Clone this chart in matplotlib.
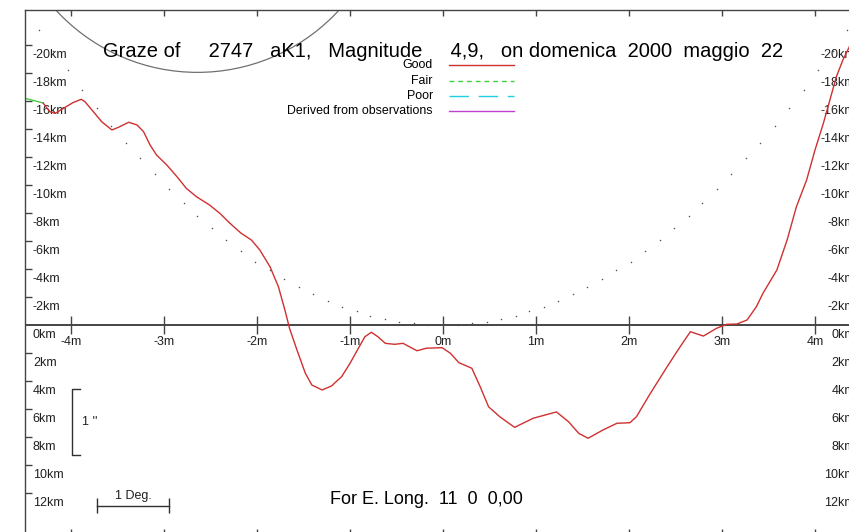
import matplotlib.pyplot as plt
from matplotlib.patches import Ellipse

plt.rcParams['font.family'] = ['Liberation Sans', 'DejaVu Sans']

# limb profile: minutes of arc from central graze vs km (negative = north/up)
prof_x = [-4.30, -4.23, -4.17, -4.08, -3.98, -3.89, -3.85, -3.76, -3.67, -3.56,
          -3.49, -3.38, -3.29, -3.22, -3.15, -3.08, -2.97, -2.86, -2.76, -2.65,
          -2.51, -2.40, -2.29, -2.17, -2.06, -1.97, -1.86, -1.77, -1.70, -1.65,
          -1.57, -1.48, -1.41, -1.30, -1.20, -1.09, -1.00, -0.91, -0.84, -0.77,
          -0.70, -0.62, -0.52, -0.43, -0.28, -0.18, -0.01, 0.08, 0.17, 0.31,
          0.40, 0.49, 0.61, 0.77, 0.97, 1.22, 1.35, 1.46, 1.56, 1.72,
          1.87, 2.01, 2.08, 2.23, 2.41, 2.55, 2.66, 2.80, 2.94, 3.05,
          3.16, 3.27, 3.37, 3.44, 3.59, 3.70, 3.80, 3.91, 4.00, 4.09,
          4.16, 4.23, 4.30, 4.37, 4.45]
prof_y = [-15.86, -15.24, -15.12, -15.48, -15.88, -16.12, -15.95, -15.24, -14.52, -13.93,
          -14.12, -14.48, -14.29, -13.81, -12.86, -12.14, -11.43, -10.59, -9.76, -9.16,
          -8.57, -7.98, -7.26, -6.55, -6.07, -5.36, -4.16, -2.74, -1.07, 0.24,
          1.79, 3.45, 4.29, 4.64, 4.36, 3.69, 2.74, 1.66, 0.84, 0.52,
          0.84, 1.31, 1.38, 1.31, 1.84, 1.66, 1.62, 2.02, 2.69, 3.09,
          4.41, 5.84, 6.55, 7.31, 6.66, 6.21, 6.91, 7.74, 8.09, 7.50,
          7.02, 6.98, 6.55, 4.88, 2.98, 1.55, 0.48, 0.79, 0.24, -0.05,
          -0.07, -0.36, -1.31, -2.26, -3.93, -6.07, -8.45, -10.36, -12.5, -14.41,
          -16.07, -17.74, -18.93, -19.88, -21.3]

# short "fair" piece at the left edge
fair_x = [-4.50, -4.30]
fair_y = [-16.2, -15.86]

# dotted mean-limb curve
dot_x = [-4.34, -4.19, -4.03, -3.88, -3.72, -3.57, -3.41, -3.26, -3.10, -2.95,
         -2.79, -2.64, -2.48, -2.33, -2.17, -2.02, -1.86, -1.71, -1.55, -1.40,
         -1.24, -1.09, -0.93, -0.78, -0.62, -0.47, -0.31, -0.16, 0.00, 0.16,
         0.31, 0.47, 0.62, 0.78, 0.93, 1.09, 1.24, 1.40, 1.55, 1.71,
         1.86, 2.02, 2.17, 2.33, 2.48, 2.64, 2.79, 2.95, 3.10, 3.26,
         3.41, 3.57, 3.72, 3.88, 4.03, 4.19, 4.34]
dot_y = [-21.1, -19.6, -18.2, -16.8, -15.5, -14.2, -13.0, -11.9, -10.8, -9.7,
         -8.7, -7.8, -6.9, -6.1, -5.3, -4.5, -3.9, -3.3, -2.7, -2.2,
         -1.7, -1.3, -0.97, -0.67, -0.43, -0.24, -0.11, -0.03, 0.0, -0.03,
         -0.11, -0.24, -0.43, -0.67, -0.97, -1.3, -1.7, -2.2, -2.7, -3.3,
         -3.9, -4.5, -5.3, -6.1, -6.9, -7.8, -8.7, -9.7, -10.8, -11.9,
         -13.0, -14.2, -15.5, -16.8, -18.2, -19.6, -21.1]

x_ticks = [-4, -3, -2, -1, 0, 1, 2, 3, 4]
x_labels = ['-4m', '-3m', '-2m', '-1m', '0m', '1m', '2m', '3m', '4m']
y_ticks = [-20, -18, -16, -14, -12, -10, -8, -6, -4, -2, 0, 2, 4, 6, 8, 10, 12]
y_labels = ['-20km', '-18km', '-16km', '-14km', '-12km', '-10km', '-8km', '-6km',
            '-4km', '-2km', '0km', '2km', '4km', '6km', '8km', '10km', '12km']

legend_names = ['Good', 'Fair', 'Poor', 'Derived from observations']
legend_colors = ['#d03030', '#40d040', '#20d0e0', '#c040d0']
legend_dashes = [(None, None), (3.5, 2.8), (14, 7), (None, None)]

title = 'Graze of     2747   aK1,   Magnitude     4,9,   on domenica  2000  maggio  22'
footer = 'For E. Long.  11  0  0,00'

frame_col = '#444444'
lab_col = '#202020'
fig = plt.figure(figsize=(8.49, 5.32), dpi=100)
ax = fig.add_axes([25 / 849, -3 / 532, 836 / 849, 525 / 532])
ax.set_xlim(-4.4946, 4.4946)
ax.set_ylim(15.0, -22.5)

for s in ['right', 'bottom']:
    ax.spines[s].set_visible(False)
for s in ['left', 'top']:
    ax.spines[s].set_color(frame_col)
    ax.spines[s].set_linewidth(1.0)

ax.set_xticks(x_ticks)
ax.set_yticks([t for t in y_ticks if t != 0])
ax.tick_params(axis='x', which='both', direction='in', top=True, bottom=True,
               length=4.5, width=1.0, color=frame_col, labelbottom=False, labeltop=False)
ax.tick_params(axis='y', which='both', direction='in', left=True, right=False,
               length=5, width=1.0, color=frame_col, labelleft=False)

# central axis with crossing ticks
ax.axhline(0, color=frame_col, lw=1.4)
ax.vlines(x_ticks, -0.64, 0.64, color=frame_col, lw=1.0)
for t, lab in zip(x_ticks, x_labels):
    ax.text(t, 1.2, lab, ha='center', va='center', fontsize=9, color=lab_col)

for t, lab in zip(y_ticks, y_labels):
    ax.text(-4.41, t + 0.68, lab, ha='left', va='center', fontsize=9, color=lab_col)
    ax.text(4.43, t + 0.68, lab, ha='right', va='center', fontsize=9, color=lab_col)

# moon outline arc and mean limb dots
ax.add_patch(Ellipse((-2.64, -31.76), 4.13, 27.43, fill=False, ec='#707070', lw=0.9))
ax.scatter(dot_x, dot_y, s=1.2, color='#505050', lw=0, zorder=3)

ax.plot(fair_x, fair_y, color=legend_colors[1], lw=1.0)
ax.plot(prof_x, prof_y, color=legend_colors[0], lw=1.0, zorder=4)

ax.text(0, -19.5, title, ha='center', va='center', fontsize=14.5, color='black')

# legend
legend_rows = [-18.57, -17.46, -16.36, -15.29]
for name, col, dash, yr in zip(legend_names, legend_colors, legend_dashes, legend_rows):
    ax.text(-0.108, yr, name, ha='right', va='center', fontsize=8.9, color='black')
    ln, = ax.plot([0.065, 0.763], [yr, yr], color=col, lw=1.0)
    if dash[0] is not None:
        ln.set_dashes(dash)

# 1 arcsec scale bracket
ax.plot([-3.903, -3.989, -3.989, -3.903], [4.57, 4.57, 9.29, 9.29], color='#303030', lw=1.0)
ax.text(-3.882, 6.93, "1 ''", ha='left', va='center', fontsize=9, color=lab_col)

# 1 degree scale bar
ax.plot([-3.72, -2.946], [12.91, 12.91], color='#303030', lw=1.0)
ax.vlines([-3.72, -2.946], 12.36, 13.43, color='#303030', lw=1.0)
ax.text(-3.333, 12.25, '1 Deg.', ha='center', va='center', fontsize=9, color=lab_col)

ax.text(-1.215, 12.5, footer, ha='left', va='center', fontsize=13, color='black')

plt.savefig('out.png', dpi=100)
